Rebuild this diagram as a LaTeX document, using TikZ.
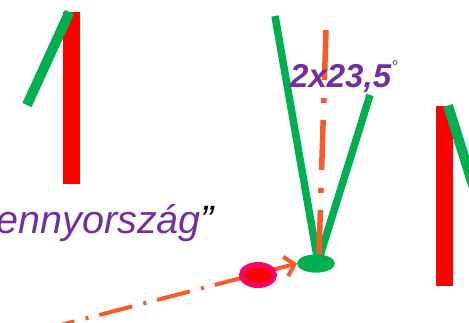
\documentclass[tikz,border=0pt]{standalone}
\usepackage{fontspec}
\setmainfont{Liberation Sans}
\usetikzlibrary{arrows.meta,shapes.geometric}
\definecolor{skypurple}{HTML}{7030A0}
\definecolor{axgreen}{HTML}{00B050}
\definecolor{axorange}{HTML}{F85A2A}
\definecolor{sunrim}{HTML}{FF0066}

\begin{document}
\begin{tikzpicture}[x=1pt,y=-1pt,
  pole/.style={fill=red},
  tilt/.style={draw=axgreen,line width=10pt},
  arm/.style={draw=axgreen,line width=7.5pt},
  spin/.style={draw=axorange,line width=5.5pt,
               dash pattern=on 50pt off 18pt on 5pt off 17pt},
  ray/.style={draw=axorange,line width=4pt,
              dash pattern=on 34pt off 11.5pt on 3pt off 11.2pt,
              -{Straight Barb[length=9pt,width=20pt,line width=4pt]}},
  lbl/.style={text=skypurple,inner sep=0pt}
]
\useasboundingbox (0,0) rectangle (469,322);

% left pole and its tilted axis
\fill[pole] (63.3,12) rectangle (80,184);
\draw[tilt] (69.5,12) -- (27,105);

% right pole
\fill[pole] (436,106) rectangle (453,286);
\draw[tilt] (448,105.5) -- (478,201);

% earth with the cone of the axis
\coordinate (apex) at (318,262);
\coordinate (leftarm) at (275,16);
\coordinate (rightarm) at (370,95);
\coordinate (axtop) at (326,30);
\coordinate (axfoot) at (319,254);
\coordinate (raystart) at (41.5,330);

\draw[arm] (leftarm) -- (apex);
\draw[arm] (rightarm) -- (apex);
\draw[spin] (axtop) -- (axfoot);

\node[ellipse,fill=axgreen,minimum width=37.5pt,minimum height=18pt,
      inner sep=0pt] (earth) at (316,263.5) {};
\draw[ray] (raystart) -- (earth.west);
\node[ellipse,fill=red,draw=sunrim,line width=5pt,minimum width=33pt,
      minimum height=21pt,inner sep=0pt] (sun) at (258,275) {};
\node[ellipse,fill=axgreen,minimum width=37.5pt,minimum height=18pt,
      inner sep=0pt] at (earth) {};

\node[lbl,anchor=base west,font=\bfseries\itshape\fontsize{33}{33}\selectfont]
  (angle) at (290,87.5)
  {2x23,5\raisebox{15pt}{\fontsize{17}{17}\selectfont\mdseries °}};
\node[lbl,anchor=base west,font=\itshape\fontsize{39.5}{40}\selectfont]
  (heaven) at (-3.5,233) {ennyország\textcolor{black}{”}};
\end{tikzpicture}
\end{document}
